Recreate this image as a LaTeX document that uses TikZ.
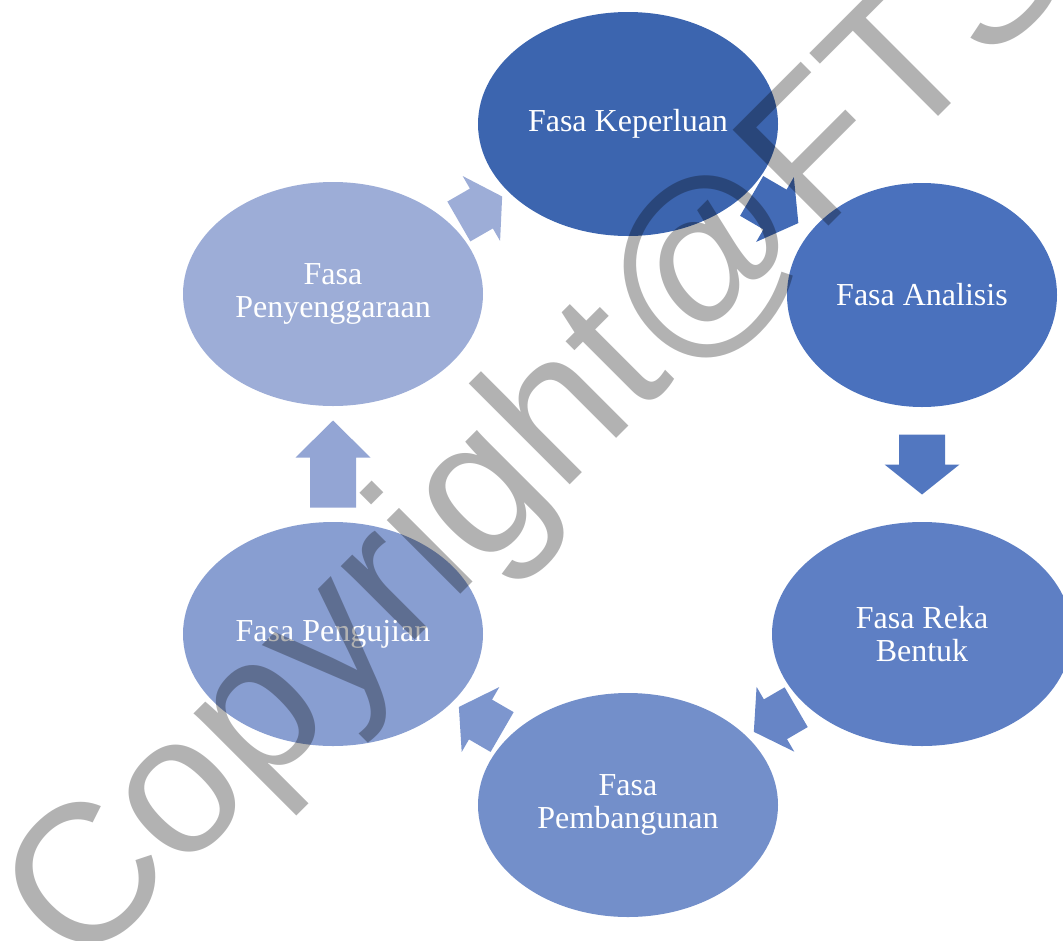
\documentclass[tikz,border=0pt]{standalone}
\usepackage{fontspec}
\setmainfont{Liberation Serif}
\newfontfamily\marksans{Liberation Sans}
\usetikzlibrary{calc,shapes.geometric}

\definecolor{kep}{HTML}{3C65AF}
\definecolor{ana}{HTML}{4A71BD}
\definecolor{reka}{HTML}{5E7FC4}
\definecolor{bina}{HTML}{738FCA}
\definecolor{uji}{HTML}{889ED1}
\definecolor{senggara}{HTML}{9DADD7}

% block arrow half way between two phases: from, to, length, head length, colour
\newcommand{\cyclearrow}[5]{%
    \fill [#5] let \p1 = ($(#2)-(#1)$), \n1 = {atan2(\y1,\x1)},
            \p2 = ($(#1)!0.5!(#2)$) in
        ($(\p2)+({\n1}:{0.5*#3pt})$)
        -- ($(\p2)+({\n1}:{0.5*#3pt-#4pt})+({\n1+90}:37.5pt)$)
        -- ($(\p2)+({\n1}:{0.5*#3pt-#4pt})+({\n1+90}:23pt)$)
        -- ($(\p2)+({\n1+180}:{0.5*#3pt})+({\n1+90}:23pt)$)
        -- ($(\p2)+({\n1+180}:{0.5*#3pt})+({\n1-90}:23pt)$)
        -- ($(\p2)+({\n1}:{0.5*#3pt-#4pt})+({\n1-90}:23pt)$)
        -- ($(\p2)+({\n1}:{0.5*#3pt-#4pt})+({\n1-90}:37.5pt)$)
        -- cycle;}

\begin{document}
\begin{tikzpicture}[x=1pt, y=-1pt,
        phase/.style={ellipse, fill=#1, minimum width=300pt,
            minimum height=224pt, inner sep=0pt, text=white, align=center,
            font=\fontsize{32}{33}\selectfont}]
    \useasboundingbox (0, 0) rectangle (1063, 940);

    \node [phase=kep] (keperluan) at (628, 124) {Fasa Keperluan};
    \node [phase=ana, minimum width=270pt] (analisis) at (922, 295) {Fasa Analisis};
    \node [phase=reka] (reka) at (922, 634) {Fasa Reka\\Bentuk};
    \node [phase=bina] (bina) at (628, 805) {Fasa\\Pembangunan};
    \node [phase=uji] (uji) at (333, 634) {Fasa Pengujian};
    \node [phase=senggara] (senggara) at (333, 294) {Fasa\\Penyenggaraan};

    \cyclearrow{keperluan}{analisis}{54}{27}{kep!50!ana}
    \cyclearrow{analisis}{reka}{60}{30}{ana!60!reka}
    \cyclearrow{reka}{bina}{49}{25}{reka!60!bina}
    \cyclearrow{bina}{uji}{50}{25}{bina!50!uji}
    \cyclearrow{uji}{senggara}{87}{37}{uji!50!senggara}
    \cyclearrow{senggara}{keperluan}{50}{24}{senggara}

    \node [rotate=45, anchor=base west, inner sep=0pt, text=black,
        text opacity=0.3, font=\marksans\fontsize{197}{197}\selectfont]
        (mark) at (80, 975) {Copyright@FTSM};
\end{tikzpicture}
\end{document}
